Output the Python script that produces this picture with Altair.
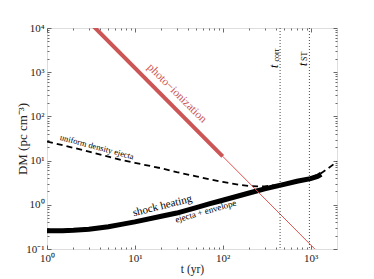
import altair as alt
import pandas as pd

# ---- data ----
shock_t = [1, 1.5, 2, 3, 5, 7, 10, 20, 30, 50, 70, 100, 200, 300, 500, 700, 1000, 1200, 1320]
shock_dm = [0.26, 0.26, 0.265, 0.28, 0.32, 0.36, 0.41, 0.55, 0.65, 0.86, 1.05, 1.27, 1.85, 2.3, 2.9, 3.4, 3.9, 4.4, 4.9]

uni_t = [1, 2, 3, 5, 7, 10, 20, 30, 50, 70, 100, 150, 200, 250, 300, 400, 500, 700, 1000, 1320, 1600, 2000]
uni_dm = [27, 19.5, 16, 12.3, 10.3, 8.9, 6.7, 5.5, 4.4, 3.8, 3.3, 2.85, 2.67, 2.6, 2.62, 2.8, 3.05, 3.5, 4.1, 5.2, 6.8, 9.4]

photo_thick_t = [3.0, 100]
photo_thick_dm = [13900, 12.5]
photo_thin_t = [100, 1118]
photo_thin_dm = [12.5, 0.1]

vline_t = [450, 970]

x_major = [1, 10, 100, 1000]
x_minor = [m * 10 ** k for k in range(0, 4) for m in range(2, 10) if m * 10 ** k < 2000]
y_major = [0.1, 1, 10, 100, 1000, 10000]
y_minor = [m * 10 ** k for k in range(-1, 4) for m in range(2, 10)]

x_label_expr = ("datum.value < 5 ? '10⁰' : datum.value < 50 ? '10¹' : "
                "datum.value < 500 ? '10²' : '10³'")
y_label_expr = ("datum.value < 0.5 ? '10⁻¹' : datum.value < 5 ? '10⁰' : "
                "datum.value < 50 ? '10¹' : datum.value < 500 ? '10²' : "
                "datum.value < 5000 ? '10³' : '10⁴'")

SERIF = "Liberation Serif"
RED = "#cc5555"
TC = "#444444"

xscale = alt.Scale(type="log", domain=[1, 2000], nice=False)
yscale = alt.Scale(type="log", domain=[0.1, 10000], nice=False)


def ax(orient, major, labels=False, title=None, expr=None, vals=None, tpad=4, tsize=12):
    d = dict(orient=orient, domain=False, grid=False, tickColor=TC, tickWidth=0.8,
             values=vals, tickSize=4 if major else 2, offset=-4 if major else -2,
             labels=labels, title=title)
    if labels:
        d.update(labelExpr=expr, labelFont=SERIF, labelFontSize=11, labelColor="#222",
                 labelPadding=3, labelFlush=False, labelOverlap=False, labelBound=False)
    if title:
        d.update(titleFont=SERIF, titleFontSize=tsize, titleFontWeight="normal",
                 titleColor="#222", titlePadding=tpad)
    return alt.Axis(**d)


def X(axis):
    return alt.X("t:Q", scale=xscale, axis=axis)


def Y(axis):
    return alt.Y("dm:Q", scale=yscale, axis=axis)


shock = alt.Chart(pd.DataFrame({"t": shock_t, "dm": shock_dm})).mark_line(
    color="black", strokeWidth=5, clip=True
).encode(
    x=X(ax("bottom", True, True, "t  (yr)", x_label_expr, x_major, tpad=0, tsize=11.5)),
    y=Y(ax("left", True, True, "DM  (pc cm⁻³)", y_label_expr, y_major, tpad=-4, tsize=13)),
)

uni = alt.Chart(pd.DataFrame({"t": uni_t, "dm": uni_dm})).mark_line(
    color="black", strokeWidth=1.8, strokeDash=[6, 4], clip=True
).encode(
    x=X(ax("bottom", False, vals=x_minor)),
    y=Y(ax("left", False, vals=y_minor)),
)

red_thick = alt.Chart(pd.DataFrame({"t": photo_thick_t, "dm": photo_thick_dm})).mark_line(
    color=RED, strokeWidth=4, clip=True
).encode(
    x=X(ax("top", True, vals=x_major)),
    y=Y(ax("right", True, vals=y_major)),
)

red_thin = alt.Chart(pd.DataFrame({"t": photo_thin_t, "dm": photo_thin_dm})).mark_line(
    color="#e05050", strokeWidth=1, clip=True
).encode(
    x=X(ax("top", False, vals=x_minor)),
    y=Y(ax("right", False, vals=y_minor)),
)

vlines = alt.Chart(pd.DataFrame({"t": vline_t})).mark_rule(
    color="#333", strokeWidth=0.9, strokeDash=[1, 2]
).encode(x=X(None))


def label(text, t, dm, angle, size, color="black", style="normal"):
    return alt.Chart(pd.DataFrame({"t": [t], "dm": [dm], "s": [text]})).mark_text(
        angle=angle, fontSize=size, font=SERIF, color=color, fontStyle=style,
        align="center", baseline="middle"
    ).encode(x=X(None), y=Y(None), text="s:N")


texts = [
    label("photo−ionization", 30, 330, 45, 11.5, RED),
    label("uniform density ejecta", 3.7, 20.6, 15, 8.5),
    label("shock heating", 20.6, 0.94, 346, 11),
    label("ejecta + envelope", 64, 0.72, 344, 9),
    label("t", 386, 1350, 270, 12, style="italic"),
    label("corr", 414, 2450, 270, 8),
    label("t", 815, 1500, 270, 12, style="italic"),
    label("ST", 865, 2300, 270, 8),
]

chart = alt.layer(shock, uni, red_thick, red_thin, vlines, *texts).resolve_axis(
    x="independent", y="independent"
).properties(
    width=290, height=221,
    autosize=alt.AutoSizeParams(type="none"),
    padding={"left": 39, "top": 20, "right": 25, "bottom": 30},
).configure_view(stroke="#444", strokeWidth=1).configure(background="white")

chart.save("out.html", embed_options={"renderer": "svg", "actions": False})
